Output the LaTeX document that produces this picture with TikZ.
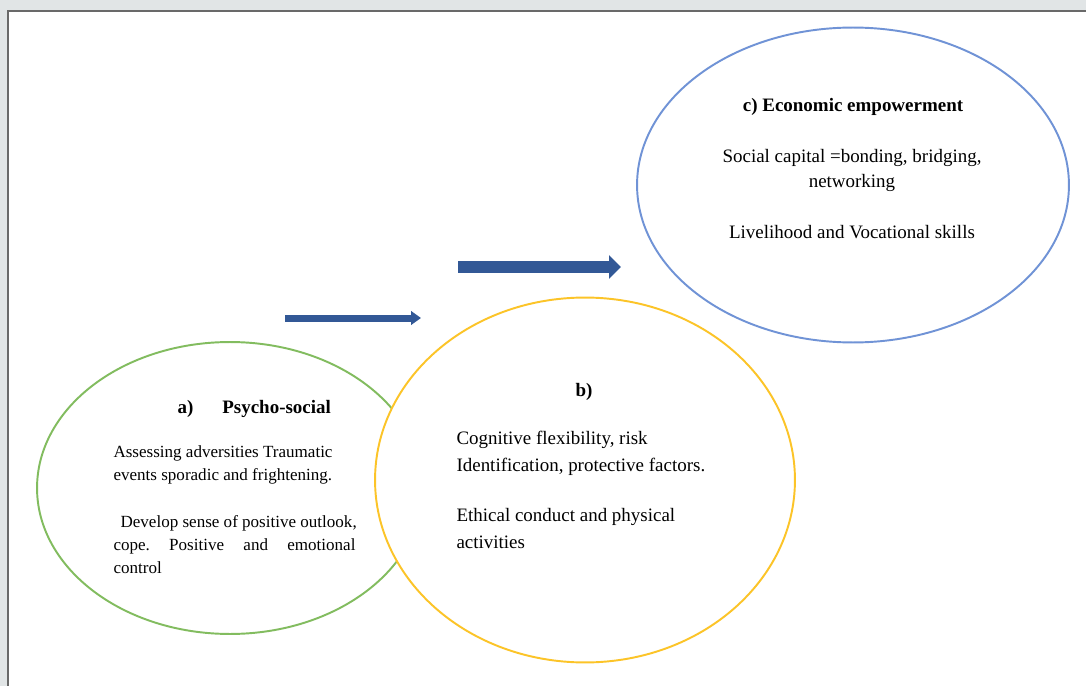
\documentclass[tikz,border=0pt]{standalone}
\usepackage{fontspec}
\setmainfont{Liberation Serif}
\usepackage{xcolor}
\definecolor{backgray}{RGB}{225,229,230}
\definecolor{framegray}{RGB}{105,105,105}
\definecolor{psygreen}{RGB}{130,188,95}
\definecolor{cogyellow}{RGB}{252,196,40}
\definecolor{ecoblue}{RGB}{112,147,214}
\definecolor{arrowblue}{RGB}{50,88,150}
\usetikzlibrary{shapes.geometric, arrows.meta, positioning}
\frenchspacing

\begin{document}
\begin{tikzpicture}[x=0.02cm,y=-0.02cm,semithick,
        bubble/.style={ellipse,line width=1.1pt,fill=white,inner sep=0pt},
        txt/.style={inner sep=0pt,align=left},
        bigtxt/.style={font=\fontsize{10.8}{15.4}\selectfont},
        smalltxt/.style={font=\fontsize{9.7}{13.1}\selectfont}]
        \useasboundingbox (0,0) rectangle (1086,686);
        \fill[backgray] (0,0) rectangle (1086,686);
        \fill[white] (8,11) rectangle (1086,686);
        \draw[framegray,line width=1pt] (8,686) -- (8,11) -- (1086,11);

        % the three areas
        \node[bubble,draw=psygreen,minimum width=7.72cm,minimum height=5.84cm](psy) at (230,488){};
        \node[bubble,draw=cogyellow,minimum width=8.4cm,minimum height=7.3cm](cog) at (585,480){};
        \node[bubble,draw=ecoblue,minimum width=8.64cm,minimum height=6.3cm](eco) at (853,185){};

        % arrows
        \coordinate (s1) at (285,318);
        \coordinate (t1) at (421,318);
        \coordinate (s2) at (458,267);
        \coordinate (t2) at (621,267);
        \draw[arrowblue,line width=0.14cm,-{Triangle[length=0.2cm,width=0.27cm]}] (s1) -- (t1);
        \draw[arrowblue,line width=0.24cm,-{Triangle[length=0.24cm,width=0.46cm]}] (s2) -- (t2);

        % a)
        \node[txt,bigtxt,anchor=base west,font=\bfseries\fontsize{10.8}{15.4}\selectfont](psytitle) at (177,413){a)\hspace{0.58cm}Psycho-social};
        \node[txt,smalltxt,anchor=north west](psytext1) at (113,445){Assessing adversities Traumatic\\events sporadic and frightening.};
        \node[txt,smalltxt,anchor=north west](psytext2) at (113,515){\hspace*{4pt}Develop sense of positive outlook,\\\makebox[4.84cm][s]{cope. Positive and emotional}\\control};

        % b)
        \node[txt,anchor=base,font=\bfseries\fontsize{10.8}{15.4}\selectfont](cogtitle) at (584,396){b)};
        \node[txt,bigtxt,anchor=north west](cogtext1) at (456,431){Cognitive flexibility, risk\\Identification, protective factors.};
        \node[txt,bigtxt,anchor=north west](cogtext2) at (456,508){Ethical conduct and physical\\activities};

        % c)
        \node[txt,anchor=base,font=\bfseries\fontsize{10.8}{15.4}\selectfont](ecotitle) at (853,112){c) Economic empowerment};
        \node[inner sep=0pt,align=center,anchor=north,font=\fontsize{10.8}{14.2}\selectfont](ecotext1) at (852,149){Social capital =bonding, bridging,\\networking};
        \node[inner sep=0pt,anchor=base,font=\fontsize{10.8}{14.2}\selectfont](ecotext2) at (852,238){Livelihood and Vocational skills};
\end{tikzpicture}
\end{document}
